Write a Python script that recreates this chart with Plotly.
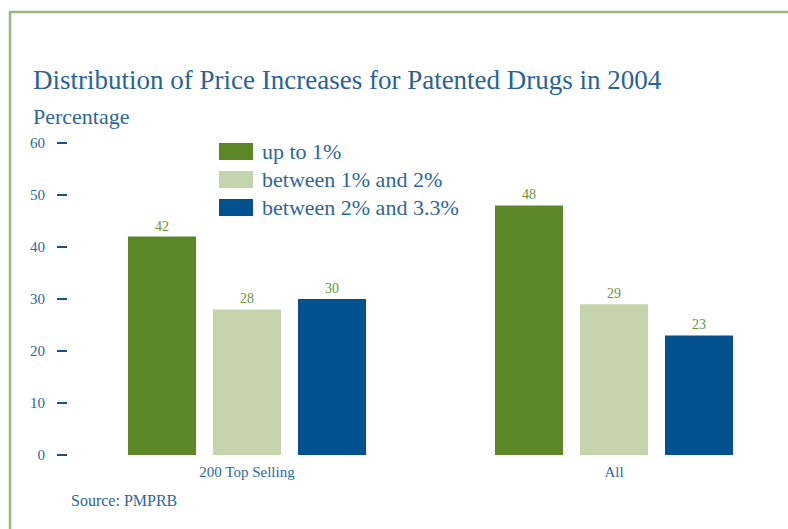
import plotly.graph_objects as go

categories = ["200 Top Selling", "All"]
series_names = ["up to 1%", "between 1% and 2%", "between 2% and 3.3%"]
up_to_1 = [42, 48]
between_1_2 = [28, 29]
between_2_33 = [30, 23]
series_values = [up_to_1, between_1_2, between_2_33]
colors = ["#5c8727", "#c6d4ae", "#04518f"]
y_ticks = [0, 10, 20, 30, 40, 50, 60]

W, H = 788, 529
L, R, T, B = 68, 0, 133, 74
pw, ph = W - L - R, H - T - B

def px(x):
    return (x - L) / pw

def py(y):
    return (H - B - y) / ph

TXT = "#2d6798"
SERIF = "Liberation Serif, Times New Roman, serif"

fig = go.Figure()
for name, vals, col in zip(series_names, series_values, colors):
    fig.add_trace(go.Bar(
        x=categories, y=vals, name=name, marker=dict(color=col, line=dict(width=0)),
        text=vals, textposition="outside", cliponaxis=False,
        textfont=dict(family=SERIF, size=14, color="#6a9237"),
        showlegend=False,
    ))

shapes = []
annotations = []
# border
shapes.append(dict(type="rect", xref="paper", yref="paper",
                   x0=px(10), x1=px(W + 20), y0=py(12), y1=py(H + 20),
                   line=dict(color="#9cb67c", width=2.5), layer="below"))
# custom legend
for i, (name, col) in enumerate(zip(series_names, colors)):
    top = 143 + i * 28
    shapes.append(dict(type="rect", xref="paper", yref="paper",
                       x0=px(219), x1=px(253), y0=py(top + 17), y1=py(top),
                       fillcolor=col, line=dict(width=0)))
    annotations.append(dict(xref="paper", yref="paper", x=px(260), y=py(top + 8.5),
                            text=name, showarrow=False, xanchor="left", yanchor="middle",
                            font=dict(family=SERIF, size=22, color=TXT)))

annotations.append(dict(xref="paper", yref="paper", x=px(31), y=py(97),
                        text="Distribution of Price Increases for Patented Drugs in 2004",
                        showarrow=False, xanchor="left", yanchor="bottom",
                        font=dict(family=SERIF, size=27, color="#2a6395")))
annotations.append(dict(xref="paper", yref="paper", x=px(31), y=py(131),
                        text="Percentage", showarrow=False, xanchor="left", yanchor="bottom",
                        font=dict(family=SERIF, size=22, color=TXT)))
annotations.append(dict(xref="paper", yref="paper", x=px(69), y=py(500),
                        text="Source: PMPRB", showarrow=False, xanchor="left", yanchor="middle",
                        font=dict(family=SERIF, size=16, color=TXT)))

fig.update_layout(
    width=W, height=H,
    margin=dict(l=L, r=R, t=T, b=B, pad=0),
    paper_bgcolor="white", plot_bgcolor="white",
    barmode="group", bargap=0.305, bargroupgap=0.2,
    shapes=shapes, annotations=annotations,
    xaxis=dict(type="category", range=[-179 / 367, -179 / 367 + pw / 367],
               showgrid=False, showline=False, zeroline=False, ticks="",
               tickfont=dict(family=SERIF, size=15, color=TXT), ticklabelstandoff=6),
    yaxis=dict(range=[0, ph / 5.2], tickvals=y_ticks, showgrid=False, showline=False,
               zeroline=False, ticks="outside", ticklen=10, tickwidth=2, tickcolor="#1f4f7c",
               tickfont=dict(family=SERIF, size=15, color=TXT), ticklabelstandoff=9),
)

fig.write_html("out.html")
